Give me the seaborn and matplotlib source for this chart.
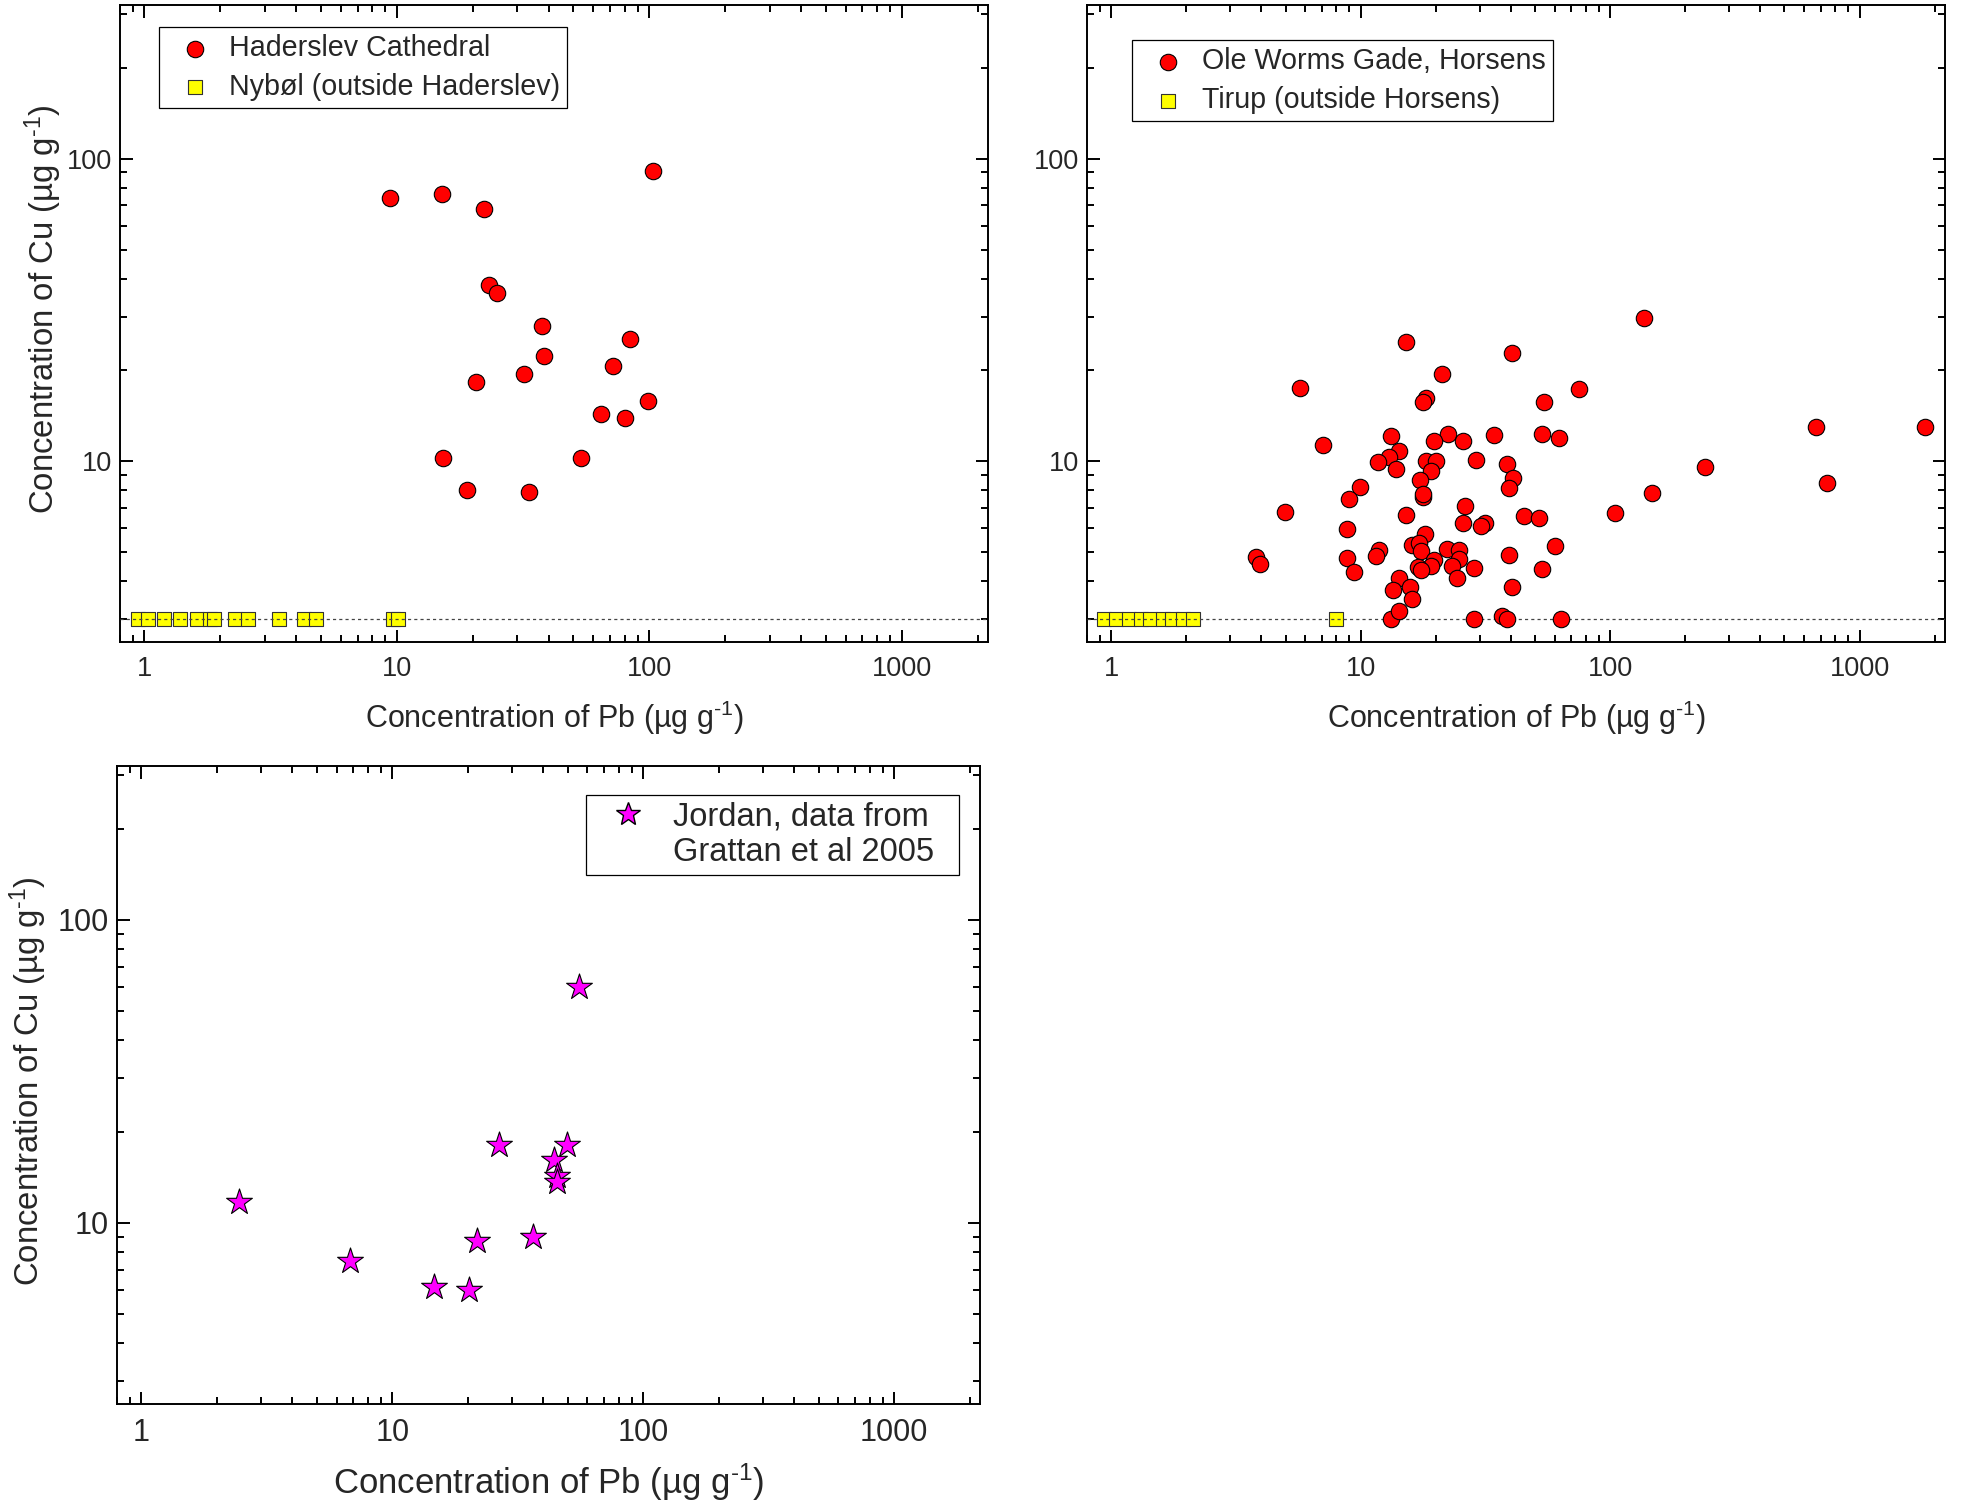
import matplotlib
matplotlib.use('Agg')
import matplotlib.pyplot as plt
import seaborn as sns
from matplotlib.ticker import LogLocator, NullFormatter
from matplotlib.lines import Line2D

# Haderslev Cathedral (Pb, Cu) and Nybøl reference site
hader_pb = [9.4, 15.1, 22.1, 103.6, 23.2, 24.9, 37.5, 83.9, 38.4, 72.1,
            20.5, 31.8, 64.2, 80.1, 98.9, 15.2, 53.5, 19.0, 33.3]
hader_cu = [74.2, 76.4, 68.0, 91.3, 38.2, 35.9, 27.9, 25.3, 22.2, 20.6,
            18.3, 19.4, 14.3, 13.9, 15.8, 10.2, 10.2, 8.0, 7.9]
nybol_pb = [0.94, 1.03, 1.19, 1.38, 1.61, 1.82, 1.88, 2.28, 2.58, 3.41,
            4.28, 4.78, 9.67, 10.1]
nybol_cu = [3.0, 3.0, 3.0, 3.0, 3.0, 3.0, 3.0, 3.0, 3.0, 3.0,
            3.0, 3.0, 3.0, 3.0]

# Ole Worms Gade, Horsens and Tirup reference site
horsens_pb = [137, 15.2, 40.3, 21.1, 5.73, 74.8, 18.3, 17.8, 54.1, 667,
              1836, 7.04, 13.2, 22.4, 34.4, 53.4, 62.4, 19.6, 25.8, 14.3,
              13.0, 11.7, 13.8, 18.3, 20.1, 19.1, 29.1, 38.7, 40.8, 39.4,
              9.98, 8.96, 17.3, 17.8, 17.7, 743, 147, 239, 4.97, 15.2,
              26.1, 25.8, 31.5, 30.5, 45.0, 51.9, 105, 8.81, 18.1, 16.1,
              17.2, 17.5, 22.1, 24.9, 60.2, 11.9, 11.5, 8.81, 3.8, 3.95,
              24.9, 19.7, 19.2, 17.0, 17.4, 23.3, 28.6, 39.4, 53.4, 9.38,
              14.3, 24.4, 13.5, 15.7, 40.6, 16.1, 13.2, 14.3, 28.4, 37.0,
              38.7, 63.4]
horsens_cu = [29.8, 24.8, 22.7, 19.4, 17.4, 17.3, 16.2, 15.7, 15.7, 13.0,
              13.0, 11.3, 12.1, 12.3, 12.2, 12.3, 11.9, 11.6, 11.6, 10.8,
              10.3, 9.9, 9.4, 10.0, 10.0, 9.27, 10.1, 9.78, 8.77, 8.15,
              8.2, 7.5, 8.67, 7.58, 7.8, 8.45, 7.84, 9.52, 6.77, 6.64,
              7.1, 6.25, 6.25, 6.08, 6.59, 6.5, 6.71, 5.95, 5.72, 5.26,
              5.35, 5.04, 5.13, 5.09, 5.25, 5.08, 4.86, 4.77, 4.82, 4.55,
              4.75, 4.71, 4.48, 4.46, 4.37, 4.51, 4.42, 4.87, 4.38, 4.28,
              4.11, 4.11, 3.75, 3.82, 3.83, 3.49, 3.0, 3.18, 3.0, 3.07,
              3.0, 3.0]
tirup_pb = [0.94, 1.05, 1.18, 1.32, 1.43, 1.61, 1.76, 1.94, 2.13, 7.94]
tirup_cu = [3.0, 3.0, 3.0, 3.0, 3.0, 3.0, 3.0, 3.0, 3.0, 3.0]

# Jordan (Grattan et al 2005)
jordan_pb = [2.45, 6.8, 14.7, 20.3, 21.8, 36.5, 26.7, 49.5, 44.2, 45.4, 45.4, 55.7]
jordan_cu = [11.7, 7.5, 6.15, 6.0, 8.7, 8.95, 18.1, 18.1, 16.1, 14.3, 13.6, 59.9]

detection_limit = 3.0
x_ticks = [1, 10, 100, 1000]
x_ticklabels = ['1', '10', '100', '1000']
y_ticks = [10, 100]
y_ticklabels = ['10', '100']

sns.set_style('ticks')
plt.rcParams['font.family'] = ['Liberation Sans', 'DejaVu Sans']
plt.rcParams['mathtext.fontset'] = 'custom'
plt.rcParams['mathtext.rm'] = 'Liberation Sans'
plt.rcParams['mathtext.default'] = 'regular'

fig = plt.figure(figsize=(19.61, 15.07), dpi=100)
W, H = 1961, 1507


def make_axes(left, right, top, bottom):
    return fig.add_axes([left / W, 1 - bottom / H, (right - left) / W, (bottom - top) / H])


def style_axes(ax, tick_size):
    ax.set_xscale('log')
    ax.set_yscale('log')
    ax.set_xlim(0.8, 2200)
    ax.set_ylim(2.52, 322)
    ax.set_xticks(x_ticks, x_ticklabels)
    ax.set_yticks(y_ticks, y_ticklabels)
    ax.xaxis.set_minor_locator(LogLocator(base=10, subs=range(2, 10)))
    ax.yaxis.set_minor_locator(LogLocator(base=10, subs=range(2, 10)))
    ax.xaxis.set_minor_formatter(NullFormatter())
    ax.yaxis.set_minor_formatter(NullFormatter())
    ax.tick_params(which='both', direction='in', top=True, right=True,
                   width=1.4, color='black', labelsize=tick_size)
    ax.tick_params(which='major', length=9)
    ax.tick_params(which='minor', length=5)
    ax.tick_params(axis='x', pad=10)
    ax.tick_params(axis='y', pad=6)
    for sp in ax.spines.values():
        sp.set_linewidth(1.4)
        sp.set_color('black')
    ax.axhline(detection_limit, color='#444444', lw=0.9, ls=(0, (2.5, 2.5)), zorder=3)


def style_legend(ax):
    frame = ax.legend_.get_frame()
    frame.set_linewidth(0.9)


xlab = 'Concentration of Pb (µg g$^{\\text{-1}}$)'
ylab = 'Concentration of Cu (µg g$^{\\text{-1}}$)'
leg_kw = dict(borderaxespad=0, frameon=True, fancybox=False, edgecolor='black',
              framealpha=1)

# Panel 1
ax1 = make_axes(120, 988, 5, 642)
style_axes(ax1, 19.5)
sns.scatterplot(x=hader_pb, y=hader_cu, ax=ax1, marker='o', color='red',
                edgecolor='black', linewidth=0.8, s=140, zorder=4,
                label='Haderslev Cathedral')
sns.scatterplot(x=nybol_pb, y=nybol_cu, ax=ax1, marker='s', color='yellow',
                edgecolor='#333333', linewidth=0.8, s=90, zorder=2,
                label='Nybøl (outside Haderslev)')
ax1.legend(loc='upper left', bbox_to_anchor=(0.045, 0.9655), fontsize=20.6,
           handlelength=2.0, handletextpad=0.2, labelspacing=0.38,
           borderpad=0.25, markerscale=1.0, **leg_kw)
style_legend(ax1)
ax1.set_xlabel(xlab, fontsize=22)
ax1.set_ylabel(ylab, fontsize=23.7)
ax1.xaxis.set_label_coords(0.5, -75.5 / 637)
ax1.xaxis.label.set_va('center')
ax1.yaxis.set_label_coords(-0.088, 0.523)
ax1.yaxis.label.set_va('center')

# Panel 2
ax2 = make_axes(1087, 1945, 5, 642)
style_axes(ax2, 19.5)
sns.scatterplot(x=horsens_pb, y=horsens_cu, ax=ax2, marker='o', color='red',
                edgecolor='black', linewidth=0.8, s=140, zorder=4,
                label='Ole Worms Gade, Horsens')
sns.scatterplot(x=tirup_pb, y=tirup_cu, ax=ax2, marker='s', color='yellow',
                edgecolor='#333333', linewidth=0.8, s=90, zorder=2,
                label='Tirup (outside Horsens)')
ax2.legend(loc='upper left', bbox_to_anchor=(0.0524, 0.945), fontsize=20.6,
           handlelength=2.0, handletextpad=0.2, labelspacing=0.38,
           borderpad=0.25, markerscale=1.0, **leg_kw)
style_legend(ax2)
ax2.set_xlabel(xlab, fontsize=22)
ax2.set_ylabel('')
ax2.xaxis.set_label_coords(0.5, -75.5 / 637)
ax2.xaxis.label.set_va('center')

# Panel 3
ax3 = make_axes(117, 980, 766, 1404)
style_axes(ax3, 22)
sns.scatterplot(x=jordan_pb, y=jordan_cu, ax=ax3, marker='*', color='magenta',
                edgecolor='black', linewidth=0.8, s=380, zorder=4, legend=False)
ax3.lines[-1].remove()  # no detection line in this panel
handles = [Line2D([], [], marker='*', color='none', markerfacecolor='magenta',
                  markeredgecolor='black', markersize=18),
           Line2D([], [], color='none')]
ax3.legend(handles, ['Jordan, data from', 'Grattan et al 2005  '],
           loc='upper right', bbox_to_anchor=(0.9757, 0.9545), fontsize=23.5,
           handlelength=2.2, handletextpad=0.28, labelspacing=0.15,
           borderpad=0.2, **leg_kw)
style_legend(ax3)
ax3.set_xlabel(xlab, fontsize=25)
ax3.set_ylabel(ylab, fontsize=23.7)
ax3.xaxis.set_label_coords(0.5, -78.5 / 638)
ax3.xaxis.label.set_va('center')
ax3.yaxis.set_label_coords(-0.103, 0.506)
ax3.yaxis.label.set_va('center')

fig.savefig('out.png', dpi=100)
